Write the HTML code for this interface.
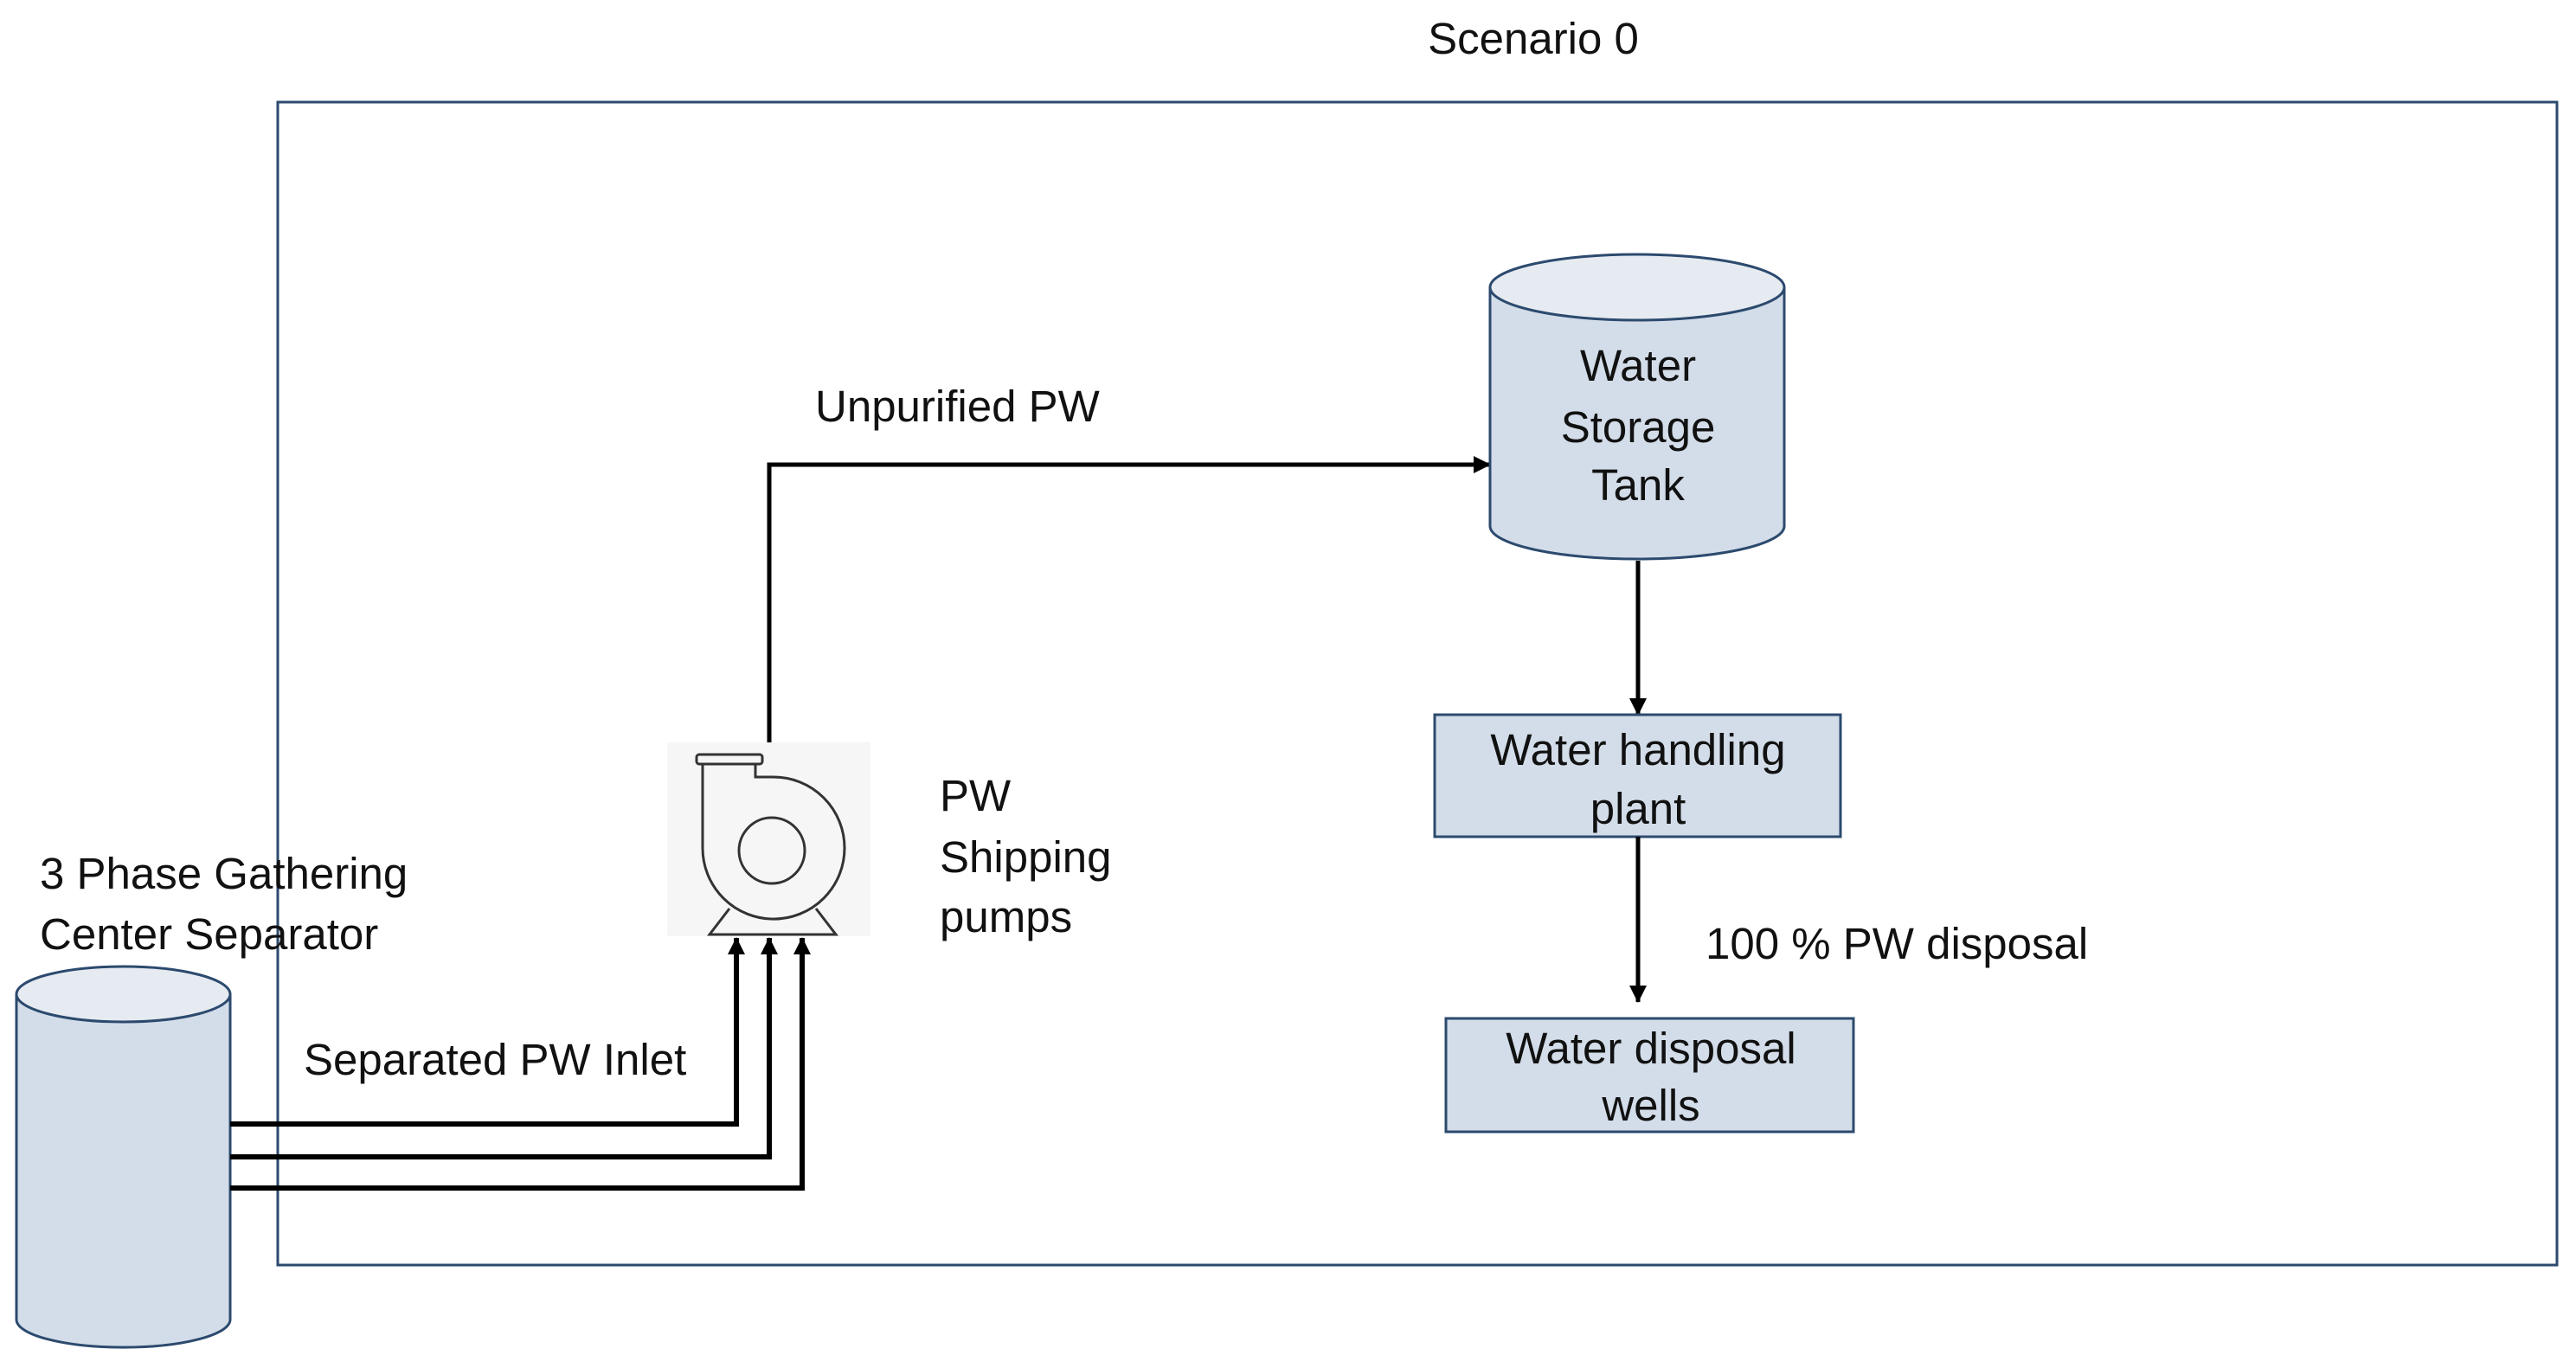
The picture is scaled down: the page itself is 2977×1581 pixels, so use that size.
<!DOCTYPE html>
<html><head><meta charset="utf-8"><style>
html,body{margin:0;padding:0;background:#fff}
svg{display:block}
text{font-family:"Liberation Sans",sans-serif;font-size:51px;fill:#111}
</style></head><body>
<svg width="2977" height="1581" viewBox="0 0 2977 1581" xmlns="http://www.w3.org/2000/svg">
<defs>
<marker id="ah2" markerWidth="20" markerHeight="20" refX="19" refY="10" orient="auto" markerUnits="userSpaceOnUse" viewBox="0 0 20 20">
<path d="M0,0 L20,10 L0,20 z" fill="#000"/></marker>
</defs>
<text x="1772" y="62" text-anchor="middle">Scenario 0</text>
<rect x="321" y="118" width="2634" height="1344" fill="none" stroke="#2c4a6e" stroke-width="3"/>

<!-- separator -->
<path d="M19,1149 L19,1525 A123,32 0 0 0 266,1525 L266,1149" fill="#d3dde9" stroke="#2c4a6e" stroke-width="3"/>
<ellipse cx="142.5" cy="1149" rx="123.5" ry="32" fill="#e6ebf1" stroke="#2c4a6e" stroke-width="3"/>
<text x="46" y="1027">3 Phase Gathering</text>
<text x="46" y="1097">Center Separator</text>
<text x="351" y="1242">Separated PW Inlet</text>

<!-- inlet lines -->
<g fill="none" stroke="#000" stroke-width="6">
<path d="M266,1299 L851,1299 L851,1084" marker-end="url(#ah2)"/>
<path d="M266,1337 L889,1337 L889,1084" marker-end="url(#ah2)"/>
<path d="M266,1373 L927,1373 L927,1084" marker-end="url(#ah2)"/>
</g>

<!-- pump -->
<rect x="771" y="858" width="235" height="224" fill="#f6f6f6"/>
<g fill="none" stroke="#333" stroke-width="3">
<rect x="805" y="872" width="76" height="11" rx="3"/>
<path d="M812,883 L812,980 A82,82 0 1 0 976,980 A82,82 0 0 0 894,898 L873,898 L873,883"/>
<circle cx="892" cy="983" r="38"/>
<path d="M843,1050 L820,1080 L966,1080 L943,1050"/>
</g>
<text x="1086" y="937">PW</text>
<text x="1086" y="1008">Shipping</text>
<text x="1086" y="1077">pumps</text>

<!-- unpurified -->
<path d="M889,858 L889,537 L1722,537" fill="none" stroke="#000" stroke-width="5" marker-end="url(#ah2)"/>
<text x="942" y="487">Unpurified PW</text>

<!-- tank -->
<path d="M1722,332 L1722,608 A170,38 0 0 0 2062,608 L2062,332" fill="#d3dde9" stroke="#2c4a6e" stroke-width="3"/>
<ellipse cx="1892" cy="332" rx="170" ry="38" fill="#e6ebf1" stroke="#2c4a6e" stroke-width="3"/>
<text x="1893" y="440" text-anchor="middle">Water</text>
<text x="1893" y="511" text-anchor="middle">Storage</text>
<text x="1893" y="578" text-anchor="middle">Tank</text>

<path d="M1893,648 L1893,826" fill="none" stroke="#000" stroke-width="5" marker-end="url(#ah2)"/>
<rect x="1658" y="826" width="469" height="141" fill="#d3dde9" stroke="#2c4a6e" stroke-width="3"/>
<text x="1893" y="884" text-anchor="middle">Water handling</text>
<text x="1893" y="952" text-anchor="middle">plant</text>

<path d="M1893,967 L1893,1158" fill="none" stroke="#000" stroke-width="5" marker-end="url(#ah2)"/>
<text x="1971" y="1108">100 % PW disposal</text>
<rect x="1671" y="1177" width="471" height="131" fill="#d3dde9" stroke="#2c4a6e" stroke-width="3"/>
<text x="1908" y="1229" text-anchor="middle">Water disposal</text>
<text x="1908" y="1295" text-anchor="middle">wells</text>
</svg>
</body></html>
